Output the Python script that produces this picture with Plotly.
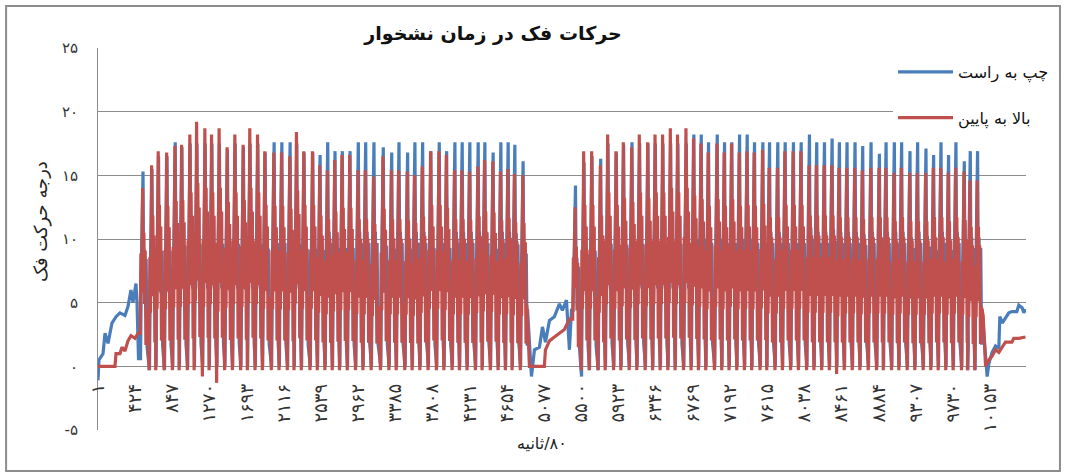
import plotly.graph_objects as go

# ---------------- data ----------------
# x tick categories (sample index)
x_ticks = [1, 424, 847, 1270, 1693, 2116, 2539, 2962, 3385, 3808, 4231, 4654, 5077,
           5500, 5923, 6346, 6769, 7192, 7615, 8038, 8461, 8884, 9307, 9730, 10153]
y_ticks = [-5, 0, 5, 10, 15, 20, 25]

# chewing burst 1: sample index of each cycle peak
burst1_x = [509, 611, 686, 782, 876, 952, 1046, 1123, 1217, 1293, 1379, 1470, 1558, 1652,
            1728, 1816, 1899, 2001, 2089, 2183, 2259, 2342, 2441, 2524, 2611, 2694, 2777,
            2865, 2959, 3043, 3137, 3243, 3339, 3422, 3520, 3603, 3691, 3785, 3880, 3964,
            4058, 4141, 4228, 4323, 4399, 4493, 4581, 4664, 4740, 4834]
burst1_red_peak = [14.0, 15.8, 16.9, 16.8, 17.3, 17.4, 18.2, 19.2, 18.7, 18.2, 18.7, 17.2,
                   18.2, 17.4, 18.7, 18.2, 16.9, 16.8, 16.8, 16.5, 18.4, 16.9, 16.9, 15.8,
                   15.4, 16.2, 16.6, 16.6, 15.4, 15.4, 14.9, 16.5, 15.4, 15.4, 15.3, 15.0,
                   15.7, 16.9, 16.9, 16.6, 15.4, 15.4, 15.3, 15.7, 16.2, 16.1, 15.3, 15.5,
                   15.1, 15.0]
burst1_blue_peak = [15.3, 15.5, 16.5, 16.5, 17.6, 17.2, 17.5, 17.5, 17.5, 17.5, 17.5, 17.0,
                    17.5, 17.2, 17.5, 17.5, 16.8, 17.6, 17.6, 17.6, 17.5, 16.8, 16.8, 16.6,
                    17.6, 16.9, 16.9, 16.9, 17.6, 17.6, 17.6, 17.2, 16.8, 17.6, 16.8, 17.6,
                    17.6, 16.9, 17.6, 16.9, 17.6, 17.6, 17.6, 17.6, 17.6, 16.8, 17.6, 17.6,
                    17.4, 16.1]
burst1_red_trough = [2.6, -0.3, -0.3, -0.3, -0.3, -0.3, -0.3, -0.3, -0.8, -0.3, -1.3, -0.3,
                     -0.3, -0.3, -0.3, -0.3, -0.3, -0.3, -0.3, -0.3, -0.3, -0.3, -0.3, -0.3,
                     -0.3, -0.3, -0.3, -0.3, -0.3, -0.3, -0.3, -0.3, -0.3, -0.3, -0.3, -0.3,
                     -0.3, -0.3, -0.3, -0.3, -0.3, -0.3, -0.3, -0.3, -0.3, -0.3, -0.3, -0.3,
                     -0.3, -0.3]
burst1_blue_trough = [0.6, -0.3, 0.0, -0.3, 0.0, 0.0, 0.0, 0.0, 0.0, 0.0, 0.0, 0.0,
                      0.0, 0.0, 0.0, 0.0, 0.0, 0.0, 0.0, 0.0, 0.0, 0.0, 0.0, 0.0,
                      0.0, 0.0, 0.0, 0.0, 0.0, 0.0, 0.0, 0.0, 0.0, 0.0, 0.0, 0.0,
                      0.0, 0.0, 0.0, 0.0, 0.0, 0.0, 0.0, 0.0, 0.0, 0.0, 0.0, 0.0,
                      0.0, 0.0]

# chewing burst 2
burst2_x = [5430, 5527, 5618, 5717, 5800, 5895, 5978, 6073, 6160, 6255, 6339, 6425, 6513,
            6595, 6691, 6777, 6861, 6944, 7043, 7126, 7209, 7297, 7384, 7467, 7562, 7638,
            7732, 7816, 7910, 7998, 8092, 8175, 8263, 8350, 8433, 8520, 8611, 8698, 8793,
            8888, 8964, 9058, 9141, 9236, 9323, 9418, 9505, 9589, 9675, 9759, 9854, 9922,
            10005]
burst2_red_peak = [12.5, 16.9, 16.9, 15.8, 18.2, 16.9, 17.6, 17.2, 18.2, 17.6, 18.2, 18.2,
                   18.7, 18.2, 18.7, 17.9, 17.5, 16.8, 17.5, 16.8, 17.5, 16.8, 16.9, 16.8,
                   17.0, 15.6, 15.6, 16.9, 16.9, 16.9, 15.8, 15.8, 15.8, 15.8, 15.6, 15.6,
                   15.6, 15.4, 15.6, 15.6, 15.6, 15.2, 15.6, 15.2, 15.2, 15.2, 15.6, 15.6,
                   15.2, 15.6, 15.3, 14.6, 14.6]
burst2_blue_peak = [14.2, 16.0, 16.5, 16.3, 17.5, 16.8, 17.4, 17.6, 17.5, 17.5, 17.5, 17.5,
                    17.5, 17.5, 17.5, 18.2, 18.2, 17.6, 18.2, 17.6, 17.6, 18.2, 18.2, 17.6,
                    17.6, 17.6, 17.6, 17.6, 17.6, 17.6, 18.2, 17.6, 17.6, 17.9, 17.6, 17.6,
                    17.6, 17.3, 17.6, 16.7, 17.6, 17.6, 17.6, 16.9, 17.6, 17.1, 16.6, 17.6,
                    16.6, 17.6, 16.1, 16.9, 16.9]
burst2_red_trough = [3.7, -0.3, -0.3, -0.3, -0.3, -0.3, -0.3, -0.3, -0.3, -0.3, -0.3, -0.3,
                     -0.3, -0.3, -0.3, -0.3, -0.3, -0.3, -0.3, -0.3, -0.3, -0.3, -0.3, -0.3,
                     -0.3, -0.3, -0.3, -0.3, -0.3, -0.3, -0.3, -0.3, -0.3, -0.3, -0.6, -0.3,
                     -0.3, -0.3, -0.3, -0.3, -0.3, -0.3, -0.3, -0.3, -0.3, -0.3, -0.3, -0.3,
                     -0.3, -0.3, -0.3, -0.3, -0.3]
burst2_blue_trough = [4.4, -0.8, -0.3, -0.3, 0.0, 0.0, 0.0, 0.0, 0.0, 0.0, 0.0, 0.0,
                      0.0, 0.0, 0.0, 0.0, 0.0, 0.0, 0.0, 0.0, 0.0, 0.0, 0.0, 0.0,
                      0.0, 0.0, 0.0, 0.0, 0.0, 0.0, 0.0, 0.0, 0.0, 0.0, 0.0, 0.0,
                      0.0, 0.0, 0.0, 0.0, 0.0, 0.0, 0.0, 0.0, 0.0, 0.0, 0.0, 0.0,
                      0.0, 0.0, 0.0, -0.3, -0.3]

# resting segments around the bursts (sample index, degrees)
blue_rest1_x = [1, 12, 58, 81, 115, 160, 206, 251, 308, 342, 376, 399, 433, 445, 462]
blue_rest1_y = [-1.1, 0.5, 1.0, 2.6, 1.8, 3.4, 3.9, 4.2, 4.0, 4.7, 6.0, 5.0, 6.5, 5.0, 0.6]
red_rest1_x = [1, 194, 206, 251, 274, 308, 342, 376, 422, 456]
red_rest1_y = [0.0, 0.0, 1.0, 1.0, 1.5, 1.2, 2.0, 2.4, 2.2, 2.6]

blue_rest2_x = [4888, 4933, 4967, 5024, 5058, 5092, 5138, 5194, 5251, 5285, 5331, 5365, 5388]
blue_rest2_y = [4.5, -0.8, 1.3, 1.5, 3.1, 1.9, 3.6, 3.9, 4.9, 4.4, 5.2, 1.3, 4.4]
red_rest2_x = [4884, 4910, 5080, 5092, 5138, 5194, 5251, 5308, 5365]
red_rest2_y = [4.4, 0.0, 0.0, 1.3, 2.0, 2.3, 2.6, 2.9, 3.7]

blue_rest3_x = [10060, 10118, 10137, 10174, 10213, 10251, 10262, 10289, 10327, 10365,
                10399, 10456, 10478, 10516, 10535, 10554]
blue_rest3_y = [4.5, -0.8, 0.2, 1.1, 1.6, 1.4, 3.9, 3.4, 3.8, 4.2, 4.3, 4.3, 4.8, 4.6, 4.2, 4.5]
red_rest3_x = [10055, 10072, 10100, 10137, 10174, 10213, 10251, 10289, 10327, 10399,
               10421, 10478, 10554]
red_rest3_y = [4.6, 4.0, 0.0, 0.5, 0.8, 1.3, 1.1, 1.5, 1.9, 1.9, 2.2, 2.2, 2.3]

# within-cycle outline (sample offset from peak, fraction of peak)
red_before_off = [-20, -13]
red_before_frac = [0.55, 0.28]
red_rise = 28
red_after_off = [7, 14, 21, 29, 37, 45]
red_after_frac = [0.50, 0.75, 0.35, 0.65, 0.12, 0.32]
blue_before_off = [-14]
blue_before_frac = [0.50]
blue_rise = 24
blue_top_off = [-4, 4]
blue_after_off = [12, 20, 30, 40, 50]
blue_after_frac = [0.45, 0.60, 0.35, 0.55, 0.10]

series_names = ["چپ به راست", "بالا به پایین"]
title_text = "حرکات فک در زمان نشخوار"
y_title = "درجه حرکت فک"
x_title = "\u200eثانیه\u200e/\u200e۸۰"

# ---------------- build the traces ----------------
def cycles(xs, peaks, troughs, rise, before_off, before_frac, top_off, after_off, after_frac):
    px, py = [], []
    for x, p, t in zip(xs, peaks, troughs):
        px.append(x - rise); py.append(t)
        for o, f in zip(before_off, before_frac):
            px.append(x + o); py.append(round(t + (p - t) * f, 2))
        for o in top_off:
            px.append(x + o); py.append(p)
        for o, f in zip(after_off, after_frac):
            px.append(x + o); py.append(round(p * f, 2))
    return px, py

rx1, ry1 = cycles(burst1_x, burst1_red_peak, burst1_red_trough, red_rise, red_before_off,
                  red_before_frac, [0], red_after_off, red_after_frac)
rx2, ry2 = cycles(burst2_x, burst2_red_peak, burst2_red_trough, red_rise, red_before_off,
                  red_before_frac, [0], red_after_off, red_after_frac)
bx1, by1 = cycles(burst1_x, burst1_blue_peak, burst1_blue_trough, blue_rise, blue_before_off,
                  blue_before_frac, blue_top_off, blue_after_off, blue_after_frac)
bx2, by2 = cycles(burst2_x, burst2_blue_peak, burst2_blue_trough, blue_rise, blue_before_off,
                  blue_before_frac, blue_top_off, blue_after_off, blue_after_frac)

blue_x = blue_rest1_x + bx1 + blue_rest2_x + bx2 + blue_rest3_x
blue_y = blue_rest1_y + by1 + blue_rest2_y + by2 + blue_rest3_y
red_x = red_rest1_x + rx1 + red_rest2_x + rx2 + red_rest3_x
red_y = red_rest1_y + ry1 + red_rest2_y + ry2 + red_rest3_y

BLUE = "#4A7EBB"
RED = "#C0504D"
GRID = "#8C8C8C"
FONT = "DejaVu Sans"

to_fa = str.maketrans("0123456789", "۰۱۲۳۴۵۶۷۸۹")

fig = go.Figure()
fig.add_trace(go.Scatter(x=blue_x, y=blue_y, mode="lines", name=series_names[0],
                         line=dict(color=BLUE, width=3.2), legendgroup="a"))
fig.add_trace(go.Scatter(x=red_x, y=red_y, mode="lines", name=series_names[1],
                         line=dict(color=RED, width=3.2), legendgroup="b"))

W, H = 1065, 476
L, R, T, B = 98, 1027, 48, 430
fig.update_layout(
    width=W, height=H,
    margin=dict(l=L, r=W - R, t=T, b=H - B, pad=0),
    paper_bgcolor="white", plot_bgcolor="white",
    font=dict(family=FONT, color="#333333"),
    title=dict(text=title_text, x=493 / W, y=1 - 33 / H, xanchor="center", yanchor="middle",
               xref="container", yref="container",
               font=dict(family=FONT, size=19, color="#111111", weight="bold")),
    xaxis=dict(range=[1, 10560], tickmode="array", tickvals=x_ticks,
               ticktext=[str(v).translate(to_fa) for v in x_ticks],
               tickangle=-90, ticks="", showgrid=False, zeroline=False, showline=False,
               anchor="free", position=5 / 30, ticklabelstandoff=13,
               tickfont=dict(family=FONT, size=18, color="#333333")),
    yaxis=dict(range=[-5, 25], tickmode="array", tickvals=y_ticks,
               ticktext=[str(v).translate(to_fa) for v in y_ticks],
               showgrid=True, gridcolor=GRID, gridwidth=1, zeroline=False,
               showline=True, linecolor=GRID, linewidth=1, ticks="",
               ticklabelstandoff=16,
               tickfont=dict(family=FONT, size=15, color="#333333")),
    legend=dict(x=(893 - L) / (R - L), y=(B - 55) / (B - T), xanchor="left", yanchor="top",
                bgcolor="white", borderwidth=0, traceorder="grouped", tracegroupgap=22,
                itemwidth=55,
                font=dict(family=FONT, size=16, color="#111111")),
    showlegend=True,
)

fig.add_annotation(text=y_title, xref="paper", yref="paper",
                   x=(28 - L) / (R - L), y=(B - 222) / (B - T),
                   textangle=-90, showarrow=False,
                   font=dict(family=FONT, size=18, color="#222222"))
fig.add_annotation(text=x_title, xref="paper", yref="paper",
                   x=(542 - L) / (R - L), y=(B - 455) / (B - T),
                   showarrow=False, font=dict(family=FONT, size=16, color="#222222"))

# outer chart frame
fig.add_shape(type="rect", xref="paper", yref="paper", layer="below",
              x0=(6 - L) / (R - L), x1=(1061 - L) / (R - L),
              y0=(B - 471) / (B - T), y1=(B - 6) / (B - T),
              line=dict(color="#8C8C8C", width=2), fillcolor="rgba(0,0,0,0)")

fig.write_html("out.html", config={"displayModeBar": False},
               post_script="document.body.style.margin='0';")
